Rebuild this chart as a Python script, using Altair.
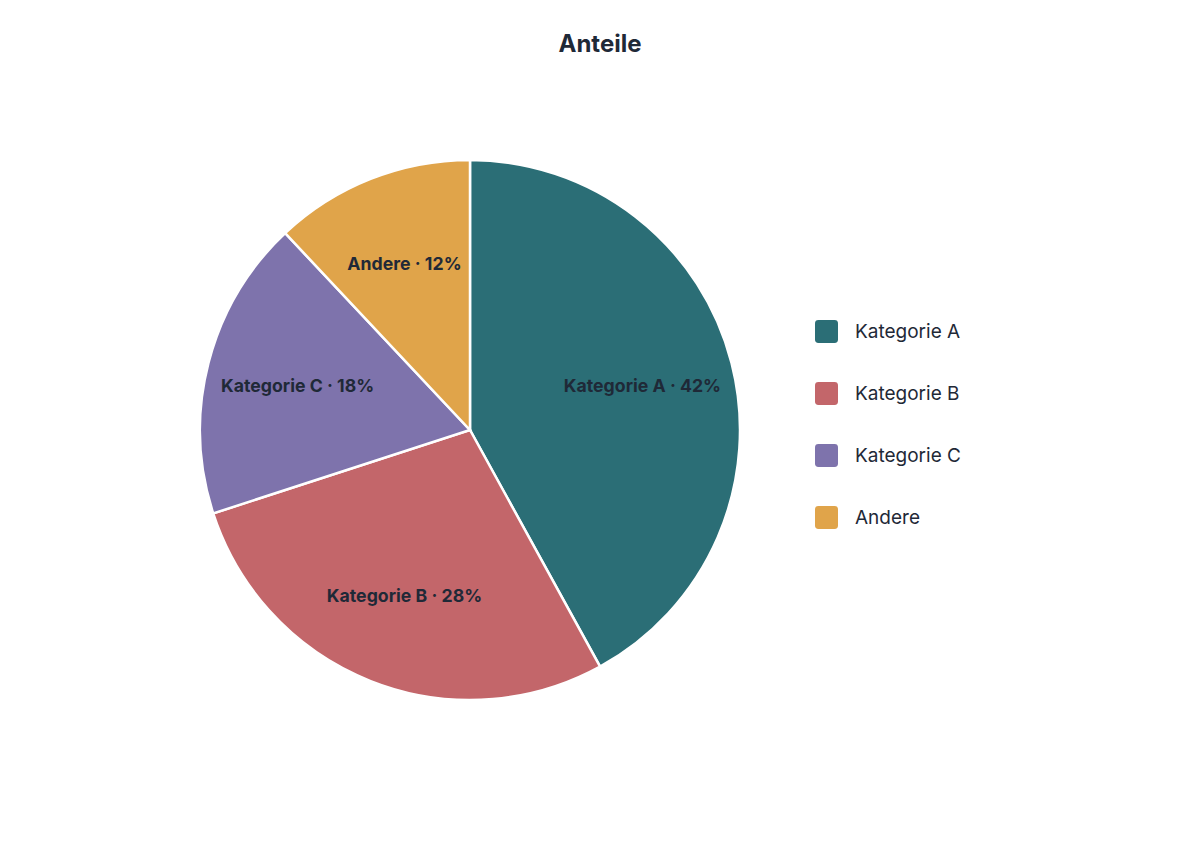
import altair as alt
import pandas as pd

categories = ["Kategorie A", "Kategorie B", "Kategorie C", "Andere"]
shares = [42, 28, 18, 12]
colors = ["#2b6e76", "#c3666a", "#7e73ac", "#e0a44a"]

df = pd.DataFrame({
    "Kategorie": categories,
    "Anteil": shares,
    "Reihenfolge": list(range(len(categories))),
})
df["Label"] = [f"{c} · {v}%" for c, v in zip(categories, shares)]

CX, CY = 462, 352
R = 270

rounded_square = ("M -1 -0.7 Q -1 -1 -0.7 -1 L 0.7 -1 Q 1 -1 1 -0.7 L 1 0.7 "
                  "Q 1 1 0.7 1 L -0.7 1 Q -1 1 -1 0.7 Z")

base = alt.Chart(df).encode(
    theta=alt.Theta("Anteil:Q", stack=True),
    order=alt.Order("Reihenfolge:Q", sort="ascending"),
)

arcs = base.mark_arc(
    x=CX, y=CY, outerRadius=R, stroke="white", strokeWidth=2.5
).encode(
    color=alt.Color(
        "Kategorie:N",
        scale=alt.Scale(domain=categories, range=colors),
        sort=categories,
        legend=alt.Legend(
            title=None,
            orient="none",
            legendX=807,
            legendY=242,
            symbolType=rounded_square,
            symbolSize=529,
            symbolStrokeWidth=0,
            symbolOpacity=1,
            labelFont="Inter",
            labelFontSize=19,
            labelColor="#1f2937",
            labelOffset=17,
            rowPadding=39,
        ),
    )
)

labels = base.mark_text(
    x=CX, y=CY + 1, radius=178, font="Inter", fontSize=17.7, fontWeight="bold",
    color="#1f2937", align="center", baseline="middle"
).encode(text="Label:N")

chart = alt.layer(arcs, labels).properties(
    width=1184,
    height=765,
    padding={"top": 70, "left": 0, "right": 0, "bottom": 0},
    autosize=alt.AutoSizeParams(type="none"),
    title=alt.Title(
        "Anteile", font="Inter", fontSize=24, fontWeight="bold",
        color="#1f2937", anchor="middle", frame="group", offset=21
    ),
).configure_view(stroke=None).configure(background="white")

chart.save("out.html", embed_options={"renderer": "svg", "actions": False})
